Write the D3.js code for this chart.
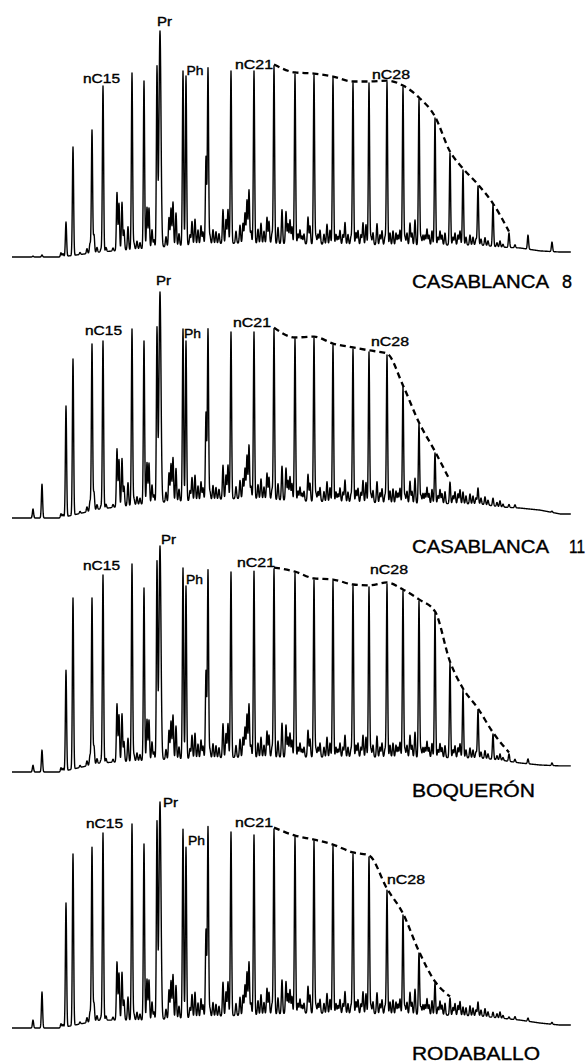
<!DOCTYPE html>
<html>
<head>
<meta charset="utf-8">
<script src="https://cdn.jsdelivr.net/npm/d3@7"></script>
<style>
  body { margin: 0; background: #fff; }
  svg { display: block; }
  .lbl { font-family: "Liberation Sans", Arial, sans-serif; fill: #000; stroke: #000; stroke-width: 0.35; }
</style>
</head>
<body>
<div id="chart"></div>
<script>
// retention time (min) of the resolved peaks, same in all four traces
const peakRt = [2.1, 3.0, 5.4, 6.1, 8.0, 9.1, 12.0, 13.2, 14.5, 14.8, 17.1, 17.4, 19.6, 21.9, 24.2,
  26.2, 28.3, 30.2, 32.1, 34.1, 35.7, 37.5, 39.1, 40.7, 42.3, 43.8, 45.1, 46.6, 48.1, 49.7, 51.6, 54.0];

// peak heights, % of pristane
const casablanca8 = [0.4, 0.9, 15.5, 48.7, 56.2, 75.7, 81.4, 77.9, 83.6, 100, 82.3, 80.1, 83.6, 82.3, 82.3,
  84.5, 81.0, 80.5, 79.2, 77.0, 77.0, 77.4, 75.2, 69.9, 61.5, 46.0, 38.5, 31.4, 23.0, 10.6, 9.7, 6.6];
const casablanca11 = [4.0, 15.0, 49.6, 70.4, 77.0, 78.3, 83.6, 78.3, 83.6, 100, 83.6, 78.3, 83.6, 82.3, 82.3,
  83.6, 79.2, 79.6, 76.5, 74.8, 73.5, 72.1, 58.0, 41.6, 28.8, 15.9, 11.5, 13.3, 8.8, 6.0, 4.0, 3.0];
const boqueron = [3.0, 9.7, 45.0, 77.0, 77.0, 87.2, 92.0, 81.4, 92.5, 100, 90.3, 82.3, 89.4, 88.5, 88.9,
  89.8, 88.0, 85.0, 84.5, 82.3, 81.9, 83.2, 80.1, 75.7, 70.4, 48.2, 36.3, 27.4, 16.8, 8.0, 5.8, 4.0];
const rodaballo = [3.5, 15.9, 55.3, 77.0, 80.0, 86.3, 90.3, 81.4, 90.7, 100, 88.0, 80.0, 89.0, 86.7, 85.4,
  88.0, 84.5, 82.7, 80.5, 77.0, 75.7, 61.0, 50.0, 33.2, 19.9, 13.3, 9.3, 11.5, 7.0, 4.9, 4.4, 2.5];

// unresolved hump under the peaks
const humpRt = [0, 4.8, 8.8, 13.8, 18.8, 23.8, 28.8, 38.8, 46.8, 48.8, 50.8, 52.8, 54.8, 56];
const humpCasablanca8 = [0, 0, 2.2, 4.0, 5.8, 6.2, 5.8, 5.3, 5.3, 4.4, 4.0, 2.7, 2.2, 2.2];
const humpCasablanca11 = [0, 0, 4.0, 6.6, 8.0, 8.8, 7.5, 6.6, 6.2, 4.9, 4.4, 3.5, 1.8, 1.8];
const humpBoqueron = [0, 0, 4.0, 5.3, 6.2, 6.6, 6.6, 6.6, 6.2, 5.3, 4.0, 3.1, 2.7, 2.7];
const humpRodaballo = [0, 0, 3.5, 3.5, 4.9, 5.8, 6.6, 6.2, 5.3, 4.4, 3.5, 2.2, 1.3, 1.3];

// small unresolved peaks (rt, height above hump in %)
const minorRt = [4.9, 5.1, 6.8, 7.5, 7.8, 8.2, 8.5, 8.9, 9.4, 10.1, 10.5, 10.7, 11.0, 11.2, 11.6, 12.2, 12.5, 12.8,
  13.5, 13.7, 14.0, 14.2, 15.4, 15.7, 15.9, 16.1, 16.4, 16.7, 17.8, 18.0, 18.3, 18.6, 18.9, 19.1, 19.4, 19.8,
  20.1, 20.4, 20.7, 21.1, 21.4, 21.6, 22.4, 22.8, 23.1, 23.3, 23.5, 23.7, 23.9, 24.6, 24.9, 25.2, 25.5, 25.7,
  26.0, 26.6, 27.0, 27.4, 27.6, 27.8, 28.0, 28.6, 28.8, 29.0, 29.2, 29.6, 29.8, 30.4, 30.6, 30.8, 31.2, 31.5,
  31.8, 32.4, 32.6, 32.8, 33.1, 33.3, 33.6, 33.9, 34.4, 34.6, 34.9, 35.1, 35.4, 35.9, 36.1, 36.5, 36.8, 37.0,
  37.3, 37.8, 38.1, 38.4, 38.6, 38.8, 39.3, 39.5, 39.8, 40.0, 40.3, 40.9, 41.1, 41.3, 41.5, 41.7, 42.0, 42.6,
  42.8, 43.0, 43.3, 44.1, 44.3, 44.6, 44.8, 45.4, 45.8, 46.1, 46.4, 46.9, 47.3, 47.6, 48.5, 48.8, 49.1, 50.3];
const minorHeight = [1.8, 1.3, 0.9, 2.2, 4.4, 8.0, 2.2, 1.3, 1.8, 1.3, 25.7, 20.8, 21.2, 8.8, 10.2, 2.7, 3.5, 2.7,
  18.1, 17.7, 8.0, 3.5, 4.4, 12.8, 16.8, 19.5, 14.6, 5.3, 4.4, 10.2, 11.1, 6.2, 8.0, 5.3, 38.5, 3.5,
  6.2, 5.3, 4.4, 15.0, 10.6, 15.0, 5.3, 8.0, 8.8, 13.3, 19.0, 23.5, 5.3, 6.2, 8.8, 5.3, 11.5, 9.7,
  4.4, 7.1, 15.0, 14.2, 8.8, 10.6, 7.5, 4.4, 6.2, 3.5, 4.4, 11.9, 8.0, 3.5, 4.4, 6.2, 4.4, 8.8,
  6.2, 4.4, 3.5, 6.2, 4.4, 9.7, 4.4, 3.5, 5.3, 6.2, 4.4, 9.7, 8.8, 3.5, 5.3, 9.3, 4.4, 6.2,
  3.5, 5.3, 6.2, 5.3, 4.4, 6.6, 3.5, 5.3, 9.7, 5.3, 11.1, 3.5, 4.4, 4.4, 7.1, 4.4, 6.2, 3.5,
  6.2, 4.4, 5.3, 3.5, 5.3, 4.4, 6.2, 3.5, 4.4, 3.5, 2.7, 2.7, 3.5, 2.2, 1.8, 2.7, 1.3, 1.3];

const sampleNames = ["CASABLANCA", "CASABLANCA", "BOQUERÓN", "RODABALLO"];
const sampleNumbers = ["8", "11", "", ""];
const peakLabels = ["nC15", "Pr", "Ph", "nC21", "nC28"];
const peakLabelIndex = [5, 9, 11, 14, 21];
// n-alkane envelope drawn from nC22 up to these peaks
const envelopeEnd = [29, 25, 29, 25];

const panels = [
  { heights: casablanca8, hump: humpCasablanca8 },
  { heights: casablanca11, hump: humpCasablanca11 },
  { heights: boqueron, hump: humpBoqueron },
  { heights: rodaballo, hump: humpRodaballo }
];

// layout
const W = 587, H = 1064;
const panelBase = [257, 518, 772, 1028];
const panelHeight = 226;
const nameY = [288, 553, 797, 1060];
// label offsets from peak apex: [dx to left edge, dy to baseline]
const labelOffsets = [
  [[-20, -3], [-3, -5], [0.5, -1], [-19, -2], [-15, -3]],
  [[-18, -6], [-4, -7], [-2, -3], [-21, -5], [-16, -9]],
  [[-20, -5], [1, -2], [0, -2], [-17, -4], [-17, -10]],
  [[-17, -5], [3, 5], [2, -2], [-19, -8], [0, -6]]
];
const labelWidths = [37, 15, 17, 38, 38];

const svg = d3.select("#chart").append("svg").attr("width", W).attr("height", H);
const x = d3.scaleLinear().domain([0, 56]).range([12, 572]);

const gauss = (d, s) => Math.exp(-(d * d) / (2 * s * s));

panels.forEach((p, k) => {
  const y = d3.scaleLinear().domain([0, 100]).range([panelBase[k], panelBase[k] - panelHeight]);
  const hump = d3.scaleLinear().domain(humpRt).range(p.hump).clamp(true);

  const samples = d3.range(0, 55.9, 0.02).concat(peakRt, minorRt).sort((a, b) => a - b);
  const trace = samples.map(t => {
    let v = hump(t);
    peakRt.forEach((r, i) => {
      const d = t - r;
      if (Math.abs(d) > 0.6) return;
      const s = i === 9 ? 0.1 : 0.06;
      v += Math.max(0, p.heights[i] - hump(r)) * gauss(d, s);
    });
    minorRt.forEach((r, i) => {
      const d = t - r;
      if (Math.abs(d) > 0.6) return;
      v += minorHeight[i] * gauss(d, 0.06);
    });
    return [t, v];
  });

  const g = svg.append("g").attr("class", "panel");

  g.append("path")
    .datum(trace)
    .attr("fill", "none")
    .attr("stroke", "#000")
    .attr("stroke-width", 1.4)
    .attr("stroke-linejoin", "round")
    .attr("d", d3.line().x(d => x(d[0])).y(d => y(d[1])));

  // dashed envelope over the heavier n-alkanes
  const env = d3.range(15, envelopeEnd[k] + 1).map(i => [peakRt[i], p.heights[i]]);
  g.append("path")
    .datum(env)
    .attr("fill", "none")
    .attr("stroke", "#000")
    .attr("stroke-width", 2.3)
    .attr("stroke-dasharray", "6,4")
    .attr("d", d3.line().x(d => x(d[0])).y(d => y(d[1]) - 1.5).curve(d3.curveMonotoneX));

  peakLabels.forEach((txt, j) => {
    const i = peakLabelIndex[j];
    const [dx, dy] = labelOffsets[k][j];
    g.append("text")
      .attr("class", "lbl")
      .attr("x", x(peakRt[i]) + dx)
      .attr("y", y(p.heights[i]) + dy)
      .attr("font-size", 12)
      .attr("textLength", labelWidths[j])
      .attr("lengthAdjust", "spacingAndGlyphs")
      .text(txt);
  });

  const nameWidths = { "CASABLANCA": 137, "BOQUERÓN": 123, "RODABALLO": 128 };
  g.append("text")
    .attr("class", "lbl")
    .attr("x", 412)
    .attr("y", nameY[k])
    .attr("font-size", 17.5)
    .attr("textLength", nameWidths[sampleNames[k]])
    .attr("lengthAdjust", "spacingAndGlyphs")
    .text(sampleNames[k]);

  if (sampleNumbers[k]) {
    const n = sampleNumbers[k];
    g.append("text")
      .attr("class", "lbl")
      .attr("x", n.length > 1 ? 569 : 562)
      .attr("y", nameY[k])
      .attr("font-size", 17.5)
      .attr("textLength", n.length > 1 ? 16 : 10)
      .attr("lengthAdjust", "spacingAndGlyphs")
      .text(n);
  }
});
</script>
</body>
</html>
